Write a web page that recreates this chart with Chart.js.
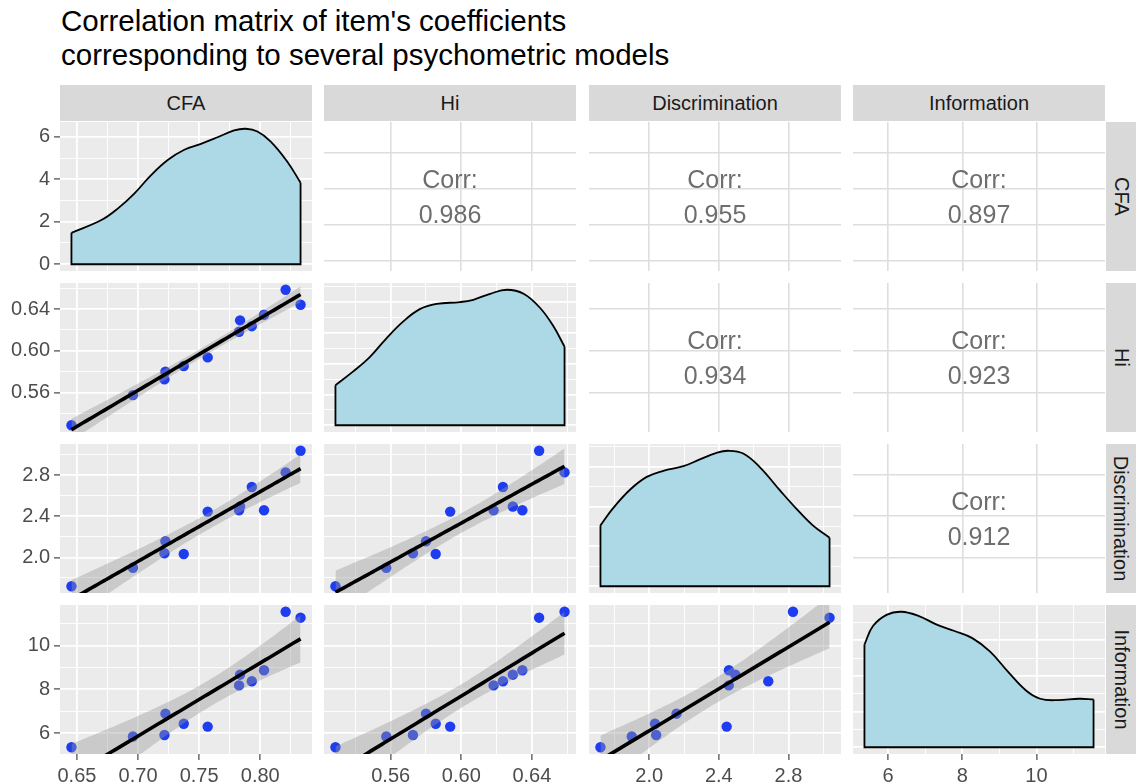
<!DOCTYPE html>
<html>
<head>
<meta charset="utf-8">
<script src="https://cdn.jsdelivr.net/npm/chart.js@4.4.1/dist/chart.umd.min.js"></script>
<style>
  html, body { margin: 0; padding: 0; background: #fff; }
  body { width: 1136px; height: 782px; position: relative; overflow: hidden;
         font-family: "Liberation Sans", Arial, Helvetica, sans-serif; }
  #title { position: absolute; left: 61px; top: 4px; font-size: 29.5px; line-height: 34px; color: #000; white-space: nowrap; }
  .strip { position: absolute; background: #D9D9D9; color: #1A1A1A; font-size: 20px;
           display: flex; align-items: center; justify-content: center; }
  .strip.right span { transform: rotate(90deg); white-space: nowrap; }
  canvas { position: absolute; }
</style>
</head>
<body>
<div id="title">Correlation matrix of item's coefficients<br>corresponding to several psychometric models</div>
<script>
// ---- data: one value per item, same item order in every array ----
const variables = ['CFA', 'Hi', 'Discrimination', 'Information'];

const cfa            = [0.6455, 0.6958, 0.7216, 0.7224, 0.7374, 0.7570, 0.7827, 0.7835, 0.7931, 0.8031, 0.8208, 0.8330];
const hi             = [0.5287, 0.5575, 0.5726, 0.5800, 0.5855, 0.5937, 0.6183, 0.6292, 0.6236, 0.6346, 0.6585, 0.6441];
const discrimination = [1.720, 1.900, 2.040, 2.157, 2.033, 2.445, 2.457, 2.495, 2.684, 2.458, 2.826, 3.036];
const information    = [5.36, 5.85, 5.92, 6.89, 6.43, 6.30, 8.18, 8.67, 8.37, 8.87, 11.54, 11.27];

// upper-triangle correlations, row by row: CFA-Hi, CFA-Disc, CFA-Info, Hi-Disc, Hi-Info, Disc-Info
const correlations = [0.986, 0.955, 0.897, 0.934, 0.923, 0.912];

// axis ticks
const cfaTicks = [0.65, 0.70, 0.75, 0.80];
const cfaTickLabels = ['0.65', '0.70', '0.75', '0.80'];
const hiTicks = [0.56, 0.60, 0.64];
const hiTickLabels = ['0.56', '0.60', '0.64'];
const discriminationTicks = [2.0, 2.4, 2.8];
const discriminationTickLabels = ['2.0', '2.4', '2.8'];
const informationTicks = [6, 8, 10];
const informationTickLabels = ['6', '8', '10'];

// kernel density curves of each variable (diagonal panels)
const cfaDensityX = [0.6455, 0.6700, 0.6836, 0.6971, 0.7107, 0.7243, 0.7379, 0.7515, 0.7651, 0.7786, 0.7882, 0.7977, 0.8086, 0.8222, 0.8330];
const cfaDensityY = [1.48, 2.08, 2.63, 3.34, 4.20, 4.91, 5.39, 5.67, 5.98, 6.30, 6.38, 6.25, 5.78, 4.83, 3.84];
const cfaDensityTicks = [0, 2, 4, 6];
const cfaDensityTickLabels = ['0', '2', '4', '6'];

const hiDensityX = [0.5287, 0.5386, 0.5480, 0.5576, 0.5670, 0.5765, 0.5860, 0.5993, 0.6068, 0.6163, 0.6258, 0.6353, 0.6448, 0.6523, 0.6585];
const hiDensityY = [2.60, 3.48, 4.41, 5.65, 6.73, 7.54, 7.88, 8.00, 8.15, 8.54, 8.80, 8.54, 7.60, 6.41, 5.10];
const hiDensityTicks = [0, 2, 4, 6, 8];

const discriminationDensityX = [1.720, 1.795, 1.891, 1.986, 2.081, 2.196, 2.291, 2.387, 2.454, 2.540, 2.635, 2.750, 2.845, 2.940, 3.036];
const discriminationDensityY = [0.382, 0.493, 0.607, 0.686, 0.724, 0.753, 0.796, 0.837, 0.850, 0.833, 0.748, 0.603, 0.487, 0.382, 0.304];
const discriminationDensityTicks = [0, 0.25, 0.5, 0.75];

const informationDensityX = [5.36, 5.59, 5.97, 6.355, 6.83, 7.31, 7.79, 8.27, 8.75, 9.23, 9.71, 10.10, 10.58, 11.15, 11.54];
const informationDensityY = [0.144, 0.170, 0.186, 0.190, 0.184, 0.172, 0.163, 0.153, 0.134, 0.106, 0.080, 0.068, 0.066, 0.068, 0.067];
const informationDensityTicks = [0, 0.05, 0.1, 0.15];

// ---- layout ----
const FONT = '"Liberation Sans", Arial, Helvetica, sans-serif';
const PANEL_LEFT = [60, 324, 589, 853];
const PANEL_TOP = [122, 283, 444, 605];
const PW = 252, PH = 149;
const PAGE_H = 782;

Chart.defaults.font.family = FONT;
Chart.defaults.animation = false;

const columns = [
  { values: cfa, ticks: cfaTicks, labels: cfaTickLabels,
    densX: cfaDensityX, densY: cfaDensityY, densTicks: cfaDensityTicks, densLabels: cfaDensityTickLabels },
  { values: hi, ticks: hiTicks, labels: hiTickLabels,
    densX: hiDensityX, densY: hiDensityY, densTicks: hiDensityTicks, densLabels: [] },
  { values: discrimination, ticks: discriminationTicks, labels: discriminationTickLabels,
    densX: discriminationDensityX, densY: discriminationDensityY, densTicks: discriminationDensityTicks, densLabels: [] },
  { values: information, ticks: informationTicks, labels: informationTickLabels,
    densX: informationDensityX, densY: informationDensityY, densTicks: informationDensityTicks, densLabels: [] }
];

// continuous scale limits with 5% expansion on both sides
function expanded(lo, hi) { const p = (hi - lo) * 0.05; return [lo - p, hi + p]; }

function buildTicks(majors, lo, hi, withMinor) {
  const list = majors.filter(v => v >= lo && v <= hi).map(v => ({ value: v, minor: false }));
  if (withMinor) {
    const step = majors[1] - majors[0];
    for (let k = -1; k < majors.length; k++) {
      const v = majors[0] + (k + 0.5) * step;
      if (v >= lo && v <= hi) list.push({ value: v, minor: true });
    }
  }
  return list.sort((a, b) => a.value - b.value);
}

const lowerGrid = { color: 'rgba(255,255,255,1)', major: 1.8, minor: 0.9, withMinor: true };
const upperGrid = { color: '#DEDEDE', major: 1.6, minor: 0, withMinor: false };

function axis(pos, lo, hi, majors, labels, size, showLabels, grid) {
  const tickObjs = buildTicks(majors, lo, hi, grid.withMinor);
  return {
    type: 'linear', position: pos, min: lo, max: hi,
    afterBuildTicks: s => { s.ticks = tickObjs.map(t => ({ value: t.value, minor: t.minor })); },
    afterFit: s => {
      if (pos === 'left') s.width = size; else s.height = size;
      // panels butt against each other: no extra room for edge labels
      s.paddingTop = 0; s.paddingBottom = 0; s.paddingLeft = 0; s.paddingRight = 0;
    },
    border: { display: false },
    ticks: {
      display: showLabels, autoSkip: false, maxRotation: 0, minRotation: 0,
      padding: 4,
      color: '#4D4D4D', font: { size: 20, family: FONT },
      callback: (v, i, ts) => {
        if (ts[i] && ts[i].minor) return '';
        const j = majors.findIndex(m => Math.abs(m - v) < 1e-9);
        return j >= 0 && labels[j] !== undefined ? labels[j] : '';
      }
    },
    grid: {
      drawTicks: showLabels, tickLength: 6, tickWidth: 1.1,
      color: grid.color,
      lineWidth: ctx => (ctx.tick && ctx.tick.minor) ? grid.minor : grid.major,
      tickColor: ctx => (ctx.tick && ctx.tick.minor) ? 'rgba(0,0,0,0)' : '#333333'
    }
  };
}

// least-squares line with 95% confidence band, evaluated across the x range
function smooth(xs, ys) {
  const n = xs.length;
  const mx = xs.reduce((a, b) => a + b, 0) / n;
  const my = ys.reduce((a, b) => a + b, 0) / n;
  let sxx = 0, sxy = 0;
  for (let i = 0; i < n; i++) { sxx += (xs[i] - mx) ** 2; sxy += (xs[i] - mx) * (ys[i] - my); }
  const b = sxy / sxx, a = my - b * mx;
  let sse = 0;
  for (let i = 0; i < n; i++) sse += (ys[i] - a - b * xs[i]) ** 2;
  const s = Math.sqrt(sse / (n - 2));
  const t = 2.228; // t(0.975) with n - 2 = 10 degrees of freedom
  const lo = Math.min(...xs), hi = Math.max(...xs);
  const fit = [], upper = [], lower = [];
  for (let k = 0; k < 80; k++) {
    const x = lo + (hi - lo) * k / 79;
    const yh = a + b * x;
    const se = s * Math.sqrt(1 / n + (x - mx) ** 2 / sxx);
    fit.push({ x, y: yh }); upper.push({ x, y: yh + t * se }); lower.push({ x, y: yh - t * se });
  }
  return { fit, upper, lower };
}

const panelBackground = {
  id: 'panelBackground',
  beforeDraw(chart, args, opts) {
    if (!opts.color) return;
    const { ctx, chartArea: a } = chart;
    ctx.save(); ctx.fillStyle = opts.color;
    ctx.fillRect(a.left, a.top, a.right - a.left, a.bottom - a.top);
    ctx.restore();
  }
};

const corrText = {
  id: 'corrText',
  afterDraw(chart, args, opts) {
    if (!opts.value) return;
    const { ctx, chartArea: a } = chart;
    const cx = (a.left + a.right) / 2, cy = (a.top + a.bottom) / 2;
    ctx.save();
    ctx.fillStyle = '#6E6E6E';
    ctx.font = '25px ' + FONT;
    ctx.textAlign = 'center'; ctx.textBaseline = 'middle';
    ctx.fillText('Corr:', cx, cy - 15);
    ctx.fillText(opts.value, cx, cy + 20);
    ctx.restore();
  }
};

function makeCanvas(left, top, width, height) {
  const c = document.createElement('canvas');
  c.width = width; c.height = height;
  c.style.left = left + 'px'; c.style.top = top + 'px';
  c.style.width = width + 'px'; c.style.height = height + 'px';
  document.body.appendChild(c);
  return c;
}

function corrIndex(r, c) {
  // position of pair (r, c), r < c, in the upper-triangle list
  let k = 0;
  for (let i = 0; i < 4; i++) for (let j = i + 1; j < 4; j++) { if (i === r && j === c) return k; k++; }
  return -1;
}

function drawPanel(r, c) {
  const yAxisW = c === 0 ? PANEL_LEFT[0] : 0;
  const xAxisH = r === 3 ? PAGE_H - PANEL_TOP[3] - PH : 0;
  const left = c === 0 ? 0 : PANEL_LEFT[c];
  const canvas = makeCanvas(left, PANEL_TOP[r], PW + yAxisW, PH + xAxisH);

  const colVar = columns[c], rowVar = columns[r];
  const [xlo, xhi] = expanded(Math.min(...colVar.values), Math.max(...colVar.values));
  const isUpper = r < c, isDiag = r === c;
  const grid = isUpper ? upperGrid : lowerGrid;

  const xScale = axis('bottom', xlo, xhi, colVar.ticks, colVar.labels, xAxisH, r === 3, grid);
  let yScale, datasets = [];

  if (isDiag) {
    const dmax = Math.max(...colVar.densY);
    const [ylo, yhi] = expanded(0, dmax);
    yScale = axis('left', ylo, yhi, colVar.densTicks, colVar.densLabels, yAxisW, c === 0, grid);
    const curve = colVar.densX.map((x, i) => ({ x, y: colVar.densY[i] }));
    const first = curve[0], last = curve[curve.length - 1];
    datasets = [
      { data: [first, { x: first.x, y: 0 }, { x: last.x, y: 0 }, last],
        borderColor: '#000', borderWidth: 1.8, fill: false, tension: 0, pointRadius: 0, order: 0 },
      { data: curve, borderColor: '#000', borderWidth: 1.8, backgroundColor: '#ADD8E6',
        fill: 'origin', tension: 0.4, pointRadius: 0, order: 1 }
    ];
  } else {
    const [ylo, yhi] = expanded(Math.min(...rowVar.values), Math.max(...rowVar.values));
    yScale = axis('left', ylo, yhi, rowVar.ticks, rowVar.labels, yAxisW, c === 0, grid);
    if (!isUpper) {
      const pts = colVar.values.map((x, i) => ({ x, y: rowVar.values[i] }));
      const sm = smooth(colVar.values, rowVar.values);
      datasets = [
        { data: sm.fit, borderColor: '#000', borderWidth: 3.6, pointRadius: 0, fill: false, clip: 0, order: 0 },
        { data: sm.upper, borderWidth: 0, pointRadius: 0, backgroundColor: 'rgba(153,153,153,0.4)',
          fill: '+1', clip: 0, order: 1 },
        { data: sm.lower, borderWidth: 0, pointRadius: 0, fill: false, clip: 0, order: 2 },
        { data: pts, showLine: false, pointRadius: 5.2, pointBorderWidth: 0,
          pointBackgroundColor: '#1E3CF0', borderColor: '#1E3CF0', order: 3 }
      ];
    }
  }

  const k = isUpper ? corrIndex(r, c) : -1;
  new Chart(canvas, {
    type: 'line',
    data: { datasets },
    options: {
      responsive: false, maintainAspectRatio: false, animation: false, events: [],
      layout: { padding: 0, autoPadding: false },
      scales: { x: xScale, y: yScale },
      plugins: {
        legend: { display: false }, tooltip: { enabled: false },
        panelBackground: { color: isUpper ? null : '#EBEBEB' },
        corrText: { value: k >= 0 ? correlations[k].toFixed(3) : null }
      }
    },
    plugins: [panelBackground, corrText]
  });
}

for (let r = 0; r < 4; r++) for (let c = 0; c < 4; c++) drawPanel(r, c);

// facet strips
variables.forEach((name, i) => {
  const top = document.createElement('div');
  top.className = 'strip';
  Object.assign(top.style, { left: PANEL_LEFT[i] + 'px', top: '85px', width: PW + 'px', height: '36px' });
  top.textContent = name;
  document.body.appendChild(top);

  const side = document.createElement('div');
  side.className = 'strip right';
  Object.assign(side.style, { left: '1106px', top: PANEL_TOP[i] + 'px', width: '30px', height: PH + 'px' });
  const span = document.createElement('span');
  span.textContent = name;
  side.appendChild(span);
  document.body.appendChild(side);
});
</script>
</body>
</html>
